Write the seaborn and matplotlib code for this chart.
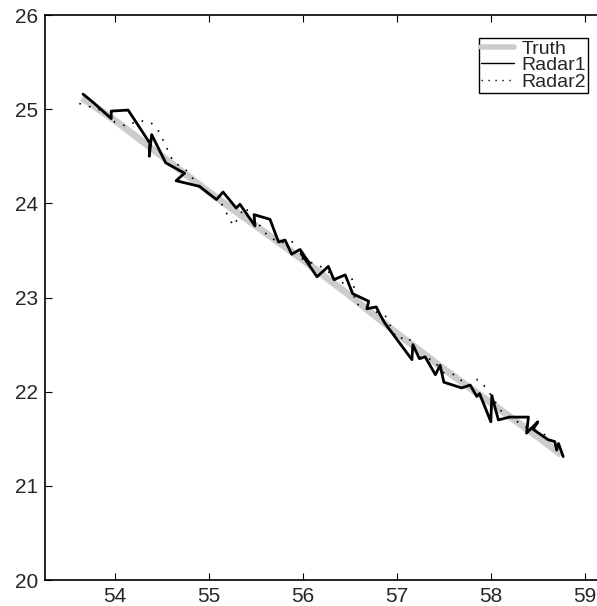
import matplotlib
matplotlib.use("Agg")
import matplotlib.pyplot as plt
from matplotlib.lines import Line2D
import numpy as np
import pandas as pd
import seaborn as sns

sns.set_theme(style="white")
plt.rcParams['font.family'] = ['Liberation Sans', 'DejaVu Sans']

truth_x = [53.65, 54.0, 54.5, 55.0, 55.5, 56.0, 56.5, 57.0, 57.5, 58.0, 58.5, 58.75]
truth_y = [25.12, 24.88, 24.50, 24.12, 23.76, 23.40, 23.02, 22.62, 22.24, 21.88, 21.52, 21.33]

radar1_x = [53.66, 53.77, 53.96, 53.96, 54.14, 54.37, 54.365, 54.39, 54.54, 54.74, 54.65, 54.90,
            55.08, 55.15, 55.29, 55.33, 55.49, 55.48, 55.65, 55.74, 55.81, 55.88, 55.97, 56.07,
            55.98, 56.15, 56.27, 56.33, 56.45, 56.53, 56.70, 56.68, 56.78, 56.82, 56.87, 57.16,
            57.17, 57.24, 57.30, 57.41, 57.46, 57.50, 57.69, 57.78, 57.85, 57.88, 58.00, 58.01,
            58.08, 58.20, 58.40, 58.38, 58.50, 58.45, 58.61, 58.68, 58.70, 58.72, 58.77]
radar1_y = [25.16, 25.07, 24.90, 24.98, 24.99, 24.64, 24.50, 24.73, 24.43, 24.32, 24.24, 24.18,
            24.04, 24.12, 23.95, 23.99, 23.76, 23.88, 23.83, 23.59, 23.61, 23.46, 23.51, 23.36,
            23.47, 23.22, 23.33, 23.19, 23.24, 23.04, 22.96, 22.88, 22.90, 22.82, 22.73, 22.34,
            22.50, 22.35, 22.37, 22.18, 22.28, 22.10, 22.04, 22.07, 21.95, 21.98, 21.68, 21.96,
            21.70, 21.73, 21.73, 21.56, 21.68, 21.60, 21.49, 21.47, 21.38, 21.45, 21.31]

radar2_x = [53.62, 53.75, 53.88, 54.00, 54.12, 54.25, 54.38, 54.47, 54.62, 54.75, 54.88, 55.00,
            55.12, 55.26, 55.38, 55.50, 55.62, 55.75, 55.88, 56.00, 56.12, 56.25, 56.38, 56.54,
            56.55, 56.75, 56.88, 57.00, 57.12, 57.25, 57.38, 57.50, 57.62, 57.75, 57.86, 57.95,
            58.12, 58.25, 58.38, 58.50, 58.62, 58.72]
radar2_y = [25.06, 25.02, 24.98, 24.86, 24.82, 24.88, 24.86, 24.76, 24.44, 24.36, 24.20, 24.10,
            24.02, 23.76, 23.96, 23.82, 23.66, 23.58, 23.60, 23.40, 23.36, 23.30, 23.14, 23.20,
            22.94, 22.86, 22.80, 22.56, 22.58, 22.36, 22.34, 22.20, 22.18, 22.06, 22.13, 22.04,
            21.78, 21.70, 21.62, 21.58, 21.52, 21.36]

fig = plt.figure(figsize=(5.97, 6.06), dpi=100)
ax = fig.add_axes([45 / 597, 26 / 606, 568 / 597, 565 / 606])

df_t = pd.DataFrame({"x": truth_x, "y": truth_y})
df_1 = pd.DataFrame({"x": radar1_x, "y": radar1_y})
df_2 = pd.DataFrame({"x": radar2_x, "y": radar2_y})

sns.lineplot(data=df_t, x="x", y="y", sort=False, estimator=None, ax=ax,
             color="#cccccc", linewidth=5, solid_capstyle="butt")
sns.lineplot(data=df_2, x="x", y="y", sort=False, estimator=None, ax=ax,
             color="black", linewidth=1.2, linestyle=(0, (1, 5)))
sns.lineplot(data=df_1, x="x", y="y", sort=False, estimator=None, ax=ax,
             color="black", linewidth=2.0)

ax.set_xlim(53.255, 59.3)
ax.set_ylim(20, 26)
ax.set_xticks([54, 55, 56, 57, 58, 59])
ax.set_yticks([20, 21, 22, 23, 24, 25, 26])
ax.set_xlabel("")
ax.set_ylabel("")
ax.tick_params(direction="in", length=5, width=0.8, color="black", labelsize=15,
               top=True, right=True, bottom=True, left=True, pad=5)
for s in ax.spines.values():
    s.set_color("black")
    s.set_linewidth(1.2)

handles = [Line2D([], [], color="#cccccc", linewidth=4),
           Line2D([], [], color="black", linewidth=1),
           Line2D([], [], color="black", linewidth=1, linestyle=(0, (1, 4)))]
leg = fig.legend(handles, ["Truth", "Radar1", "Radar2"], loc="upper left",
                 bbox_to_anchor=(479 / 597, 1 - 38 / 606), fontsize=14,
                 frameon=True, fancybox=False, edgecolor="black", framealpha=1,
                 borderpad=0.1, labelspacing=-0.05, handlelength=1.7, handletextpad=0.4,
                 borderaxespad=0)
leg.get_frame().set_linewidth(1.0)

fig.savefig("out.png", dpi=100)
